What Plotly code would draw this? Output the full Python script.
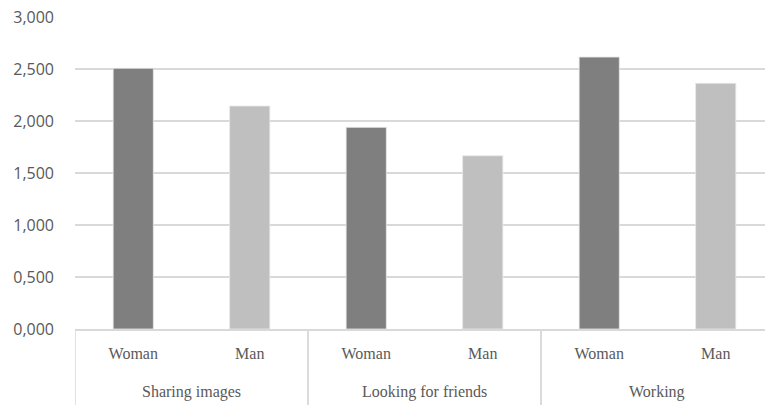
import plotly.graph_objects as go

groups = ["Sharing images", "Sharing images", "Looking for friends", "Looking for friends", "Working", "Working"]
genders = ["Woman", "Man", "Woman", "Man", "Woman", "Man"]
values = [2.507, 2.144, 1.939, 1.666, 2.615, 2.362]
colors = ["#7f7f7f", "#bfbfbf", "#7f7f7f", "#bfbfbf", "#7f7f7f", "#bfbfbf"]
y_ticks = [0, 0.5, 1.0, 1.5, 2.0, 2.5, 3.0]

pos = list(range(len(genders)))

fig = go.Figure(go.Bar(
    x=pos,
    y=values,
    marker=dict(color=colors, line=dict(color="#e8e8e8", width=0.8)),
    width=0.345,
))

# group spans
spans = []
start = 0
for i in range(1, len(groups) + 1):
    if i == len(groups) or groups[i] != groups[start]:
        spans.append((groups[start], start, i - 1))
        start = i

serif = dict(family="Liberation Serif", size=16, color="#595959")
plot_h = 405 - 17 - 76

annotations = []
shapes = []
for name, a, b in spans:
    annotations.append(dict(
        x=(a + b) / 2, xref="x", y=-63 / plot_h, yref="paper",
        text=name, showarrow=False, font=serif,
        xanchor="center", yanchor="middle",
    ))
    for edge in (a - 0.5, b + 0.5):
        shapes.append(dict(
            type="line", xref="x", yref="paper",
            x0=edge, x1=edge, y0=0, y1=-76 / plot_h,
            line=dict(color="#d9d9d9", width=1.5),
        ))

fig.update_layout(
    width=765, height=405,
    margin=dict(l=75, r=0, t=17, b=76),
    paper_bgcolor="white", plot_bgcolor="white",
    separators=",.",
    showlegend=False,
    annotations=annotations,
    shapes=shapes,
)
fig.update_yaxes(
    range=[0, 3], tickvals=y_ticks, tickformat=".3f",
    showgrid=True, gridcolor="#d9d9d9", gridwidth=1.5,
    zeroline=False, showline=False,
    tickfont=dict(family="Open Sans", size=16, color="#595959"),
    ticklabelstandoff=20,
)
fig.update_xaxes(
    range=[-0.5, 5.423],
    tickvals=pos, ticktext=genders,
    showgrid=False, showline=True, linecolor="#d9d9d9", linewidth=1.5,
    zeroline=False,
    tickfont=serif,
    ticks="outside", ticklen=9, tickcolor="rgba(0,0,0,0)",
)

fig.write_html("out.html")
